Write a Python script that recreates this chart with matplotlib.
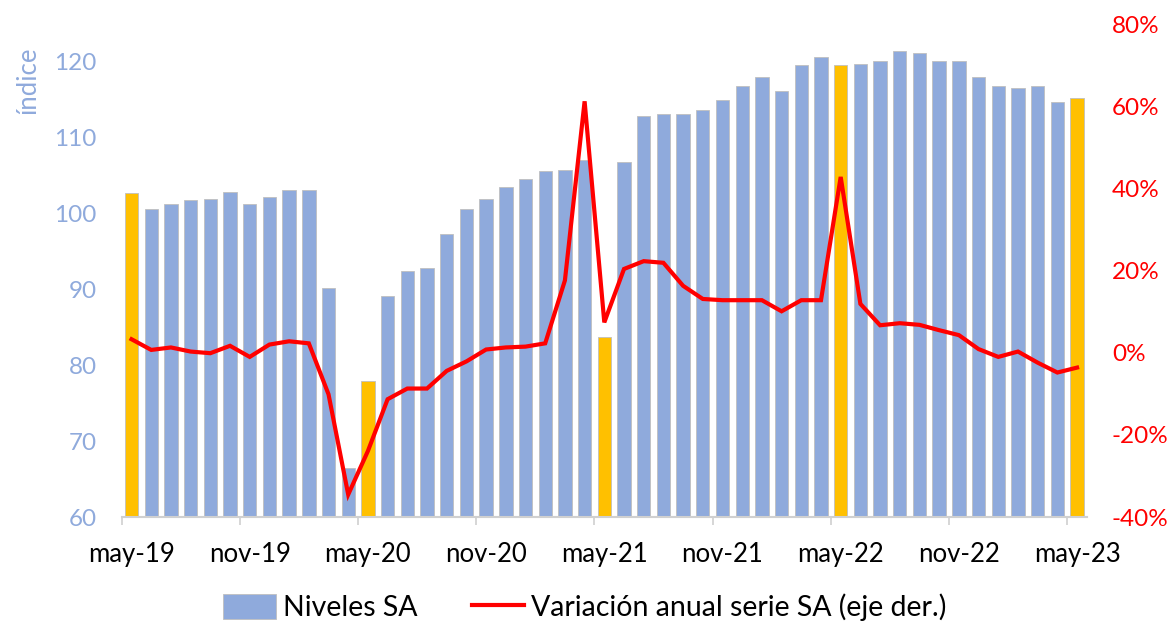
import matplotlib
matplotlib.use("Agg")
import matplotlib.pyplot as plt
from matplotlib.patches import Patch
from matplotlib.lines import Line2D
from matplotlib.ticker import FuncFormatter, FixedLocator

plt.rcParams['font.family'] = ['Lato', 'DejaVu Sans']

months = ['may', 'jun', 'jul', 'ago', 'sep', 'oct', 'nov', 'dic', 'ene', 'feb', 'mar', 'abr']
# 49 months from may-19 to may-23
periods = []
yr = 19
for k in range(49):
    m = months[k % 12]
    if m == 'ene':
        yr += 1
    periods.append(f"{m}-{yr}")

niveles = [102.6, 100.5, 101.2, 101.7, 101.9, 102.8, 101.2, 102.1, 103.1, 103.1,
           90.1, 66.5, 77.9, 89.1, 92.4, 92.8, 97.3, 100.5, 101.9, 103.5,
           104.5, 105.6, 105.7, 107.0, 83.7, 106.8, 112.8, 113.0, 113.1, 113.6,
           114.9, 116.7, 117.9, 116.1, 119.5, 120.5, 119.5, 119.7, 120.0, 121.3,
           121.1, 120.0, 120.0, 117.9, 116.7, 116.5, 116.8, 114.7, 115.2]

variacion = [3.3, 0.7, 1.3, 0.3, -0.1, 1.7, -1.0, 2.0, 2.8, 2.3,
             -10.1, -34.5, -23.9, -11.3, -8.7, -8.7, -4.4, -2.1, 0.8, 1.3,
             1.5, 2.3, 17.6, 61.2, 7.4, 20.4, 22.3, 21.9, 16.3, 13.1,
             12.8, 12.8, 12.8, 10.1, 12.8, 12.8, 42.8, 11.9, 6.7, 7.2,
             6.8, 5.5, 4.3, 0.9, -1.0, 0.3, -2.4, -4.8, -3.6]

tick_labels = ['may-19', 'nov-19', 'may-20', 'nov-20', 'may-21', 'nov-21', 'may-22', 'nov-22', 'may-23']

BLUE = '#8FAADC'
YELLOW = '#FFC000'
RED = '#FF0000'
LABEL_BLUE = '#8FAADC'

fig = plt.figure(figsize=(11.7, 6.33), dpi=100)
ax = fig.add_axes([0.104, 0.183, 0.825, 0.779])
ax2 = ax.twinx()

x = list(range(len(niveles)))
colors = [YELLOW if p.startswith('may') else BLUE for p in periods]
ax.bar(x, niveles, width=0.68, color=colors, edgecolor='#BFBFBF', linewidth=0.6, zorder=2)
ax.set_ylim(60, 124.9)
ax.set_xlim(-0.5, len(niveles) - 0.5)
ax.set_yticks([60, 70, 80, 90, 100, 110, 120])
ax.tick_params(axis='y', length=0, labelsize=17.5, labelcolor=LABEL_BLUE, pad=18)

ax.set_xticks([i for i in range(0, 49, 6)])
ax.set_xticklabels(tick_labels)
ax.xaxis.set_minor_locator(FixedLocator([i - 0.5 for i in range(0, 49, 6)]))
ax.tick_params(axis='x', which='major', length=0, labelsize=18.5, pad=18, labelcolor='#000000')
ax.tick_params(axis='x', which='minor', length=6, width=1.2, color='#D0D0D0', direction='out')

for s in ['top', 'left', 'right']:
    ax.spines[s].set_visible(False)
ax.spines['bottom'].set_color('#D0D0D0')
ax.spines['bottom'].set_linewidth(1.5)

ax2.plot(x, variacion, color=RED, linewidth=3, zorder=5, solid_joinstyle='miter')
ax2.set_ylim(-40, 80)
ax2.set_yticks([-40, -20, 0, 20, 40, 60, 80])
ax2.yaxis.set_major_formatter(FuncFormatter(lambda v, p: f"{int(v)}%"))
ax2.tick_params(axis='y', length=0, labelsize=17.5, labelcolor=RED, pad=18)
for s in ['top', 'left', 'right', 'bottom']:
    ax2.spines[s].set_visible(False)

fig.text(0.024, 0.874, 'índice', rotation=90, color=LABEL_BLUE, fontsize=18.5,
         ha='center', va='center')

handles = [Patch(facecolor=BLUE, edgecolor='#BFBFBF', linewidth=0.6),
           Line2D([0], [0], color=RED, linewidth=3)]
fig.legend(handles, ['Niveles SA', 'Variación anual serie SA (eje der.)'],
           loc='center', bbox_to_anchor=(0.5, 0.04), ncol=2, frameon=False,
           fontsize=20.5, handlelength=1.85, handleheight=1.0, columnspacing=1.9,
           handletextpad=0.25)

fig.savefig('out.png', dpi=100)
